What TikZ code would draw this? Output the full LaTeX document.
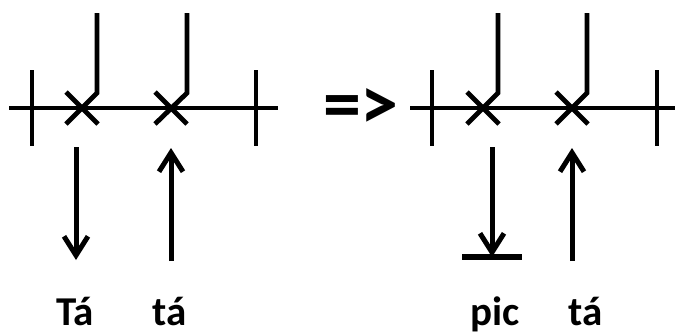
\documentclass[tikz,border=0pt]{standalone}
\usepackage{fontspec}
\setmainfont{Carlito}
\usetikzlibrary{arrows.meta,calc}
\begin{document}
\begin{tikzpicture}[x=1pt,y=-1pt,
  rail/.style={line width=3.6pt},
  tick/.style={line width=3.4pt},
  crossarm/.style={line width=4.8pt},
  arr/.style={line width=5pt,-{Straight Barb[length=19pt,width=24pt]}},
  lbl/.style={font=\bfseries\fontsize{41}{41}\selectfont,anchor=base,inner sep=0pt},
  impl/.style={font=\bfseries\fontsize{76}{76}\selectfont,inner sep=0pt}]
\useasboundingbox (0,0) rectangle (675,333);
% ---------- left ----------
\coordinate (La) at (9,108);
\coordinate (Lb) at (278,108);
\draw[rail] (La) -- (Lb);
\coordinate (Lt1a) at (32,70); \coordinate (Lt1b) at (32,146);
\coordinate (Lt2a) at (256,70); \coordinate (Lt2b) at (256,146);
\draw[tick] (Lt1a) -- (Lt1b);
\draw[tick] (Lt2a) -- (Lt2b);
% crosses
\coordinate (LX1) at (82,108);
\coordinate (LX2) at (171,108);
\draw[crossarm] ($(LX1)+(-16,-16)$) -- ($(LX1)+(16,16)$);
\draw[crossarm,line join=miter] (97,13) -- (97,93) -- ($(LX1)+(-16,16)$);
\draw[crossarm] ($(LX2)+(-16,-16)$) -- ($(LX2)+(16,16)$);
\draw[crossarm,line join=miter] (187,13) -- (187,93) -- ($(LX2)+(-16,16)$);
% arrows
\coordinate (LA1s) at (76,147); \coordinate (LA1e) at (76,260);
\coordinate (LA2s) at (171,261); \coordinate (LA2e) at (171,148);
\draw[arr] (LA1s) -- (LA1e);
\draw[arr] (LA2s) -- (LA2e);
\node[lbl] (LT1) at (75,325) {Tá};
\node[lbl] (LT2) at (170,325) {tá};
% implies
\node[impl] (imp) at (361,109) {=>};
% ---------- right ----------
\coordinate (Ra) at (410,108);
\coordinate (Rb) at (675,108);
\draw[rail] (Ra) -- (Rb);
\coordinate (Rt1a) at (432,70); \coordinate (Rt1b) at (432,146);
\coordinate (Rt2a) at (657,70); \coordinate (Rt2b) at (657,146);
\draw[tick] (Rt1a) -- (Rt1b);
\draw[tick] (Rt2a) -- (Rt2b);
\coordinate (RX1) at (483,108);
\coordinate (RX2) at (572,108);
\draw[crossarm] ($(RX1)+(-16,-16)$) -- ($(RX1)+(16,16)$);
\draw[crossarm,line join=miter] (498,13) -- (498,93) -- ($(RX1)+(-16,16)$);
\draw[crossarm] ($(RX2)+(-16,-16)$) -- ($(RX2)+(16,16)$);
\draw[crossarm,line join=miter] (587,13) -- (587,93) -- ($(RX2)+(-16,16)$);
\coordinate (RA1s) at (492,147); \coordinate (RA1e) at (492,257);
\coordinate (RA2s) at (572,261); \coordinate (RA2e) at (572,148);
\draw[arr] (RA1s) -- (RA1e);
\draw[arr] (RA2s) -- (RA2e);
\coordinate (Rbar1) at (462,257); \coordinate (Rbar2) at (522,257);
\draw[line width=5.5pt] (Rbar1) -- (Rbar2);
\node[lbl] (RT1) at (495,325) {pic};
\node[lbl] (RT2) at (586,325) {tá};
\end{tikzpicture}
\end{document}
